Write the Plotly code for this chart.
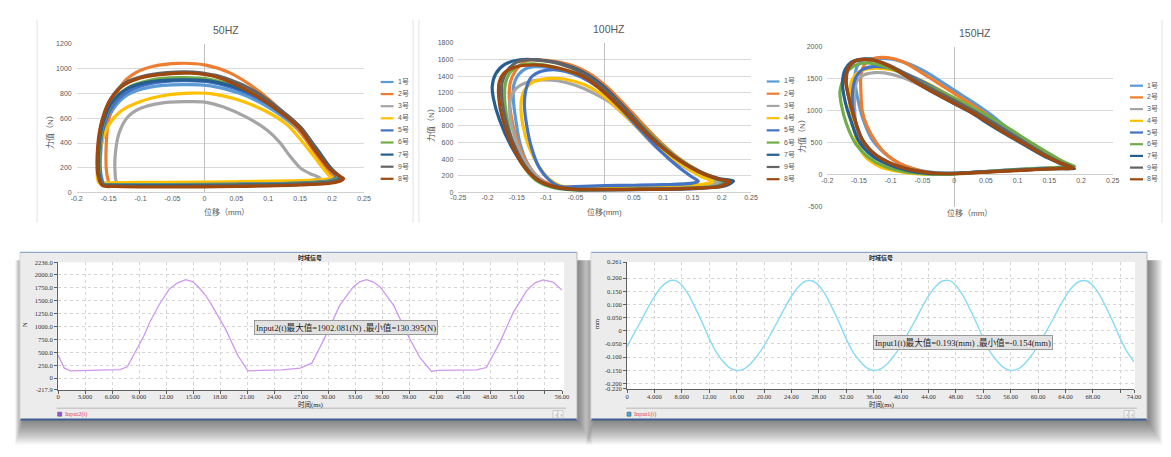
import plotly.graph_objects as go

W, H = 1171, 457
def fx(p): return p / W
def fy(p): return 1 - p / H

# ---------------- data ----------------
series_names = ["1号", "2号", "3号", "4号", "5号", "6号", "7号", "9号", "8号"]
series_colors = ["#5B9BD5", "#ED7D31", "#A5A5A5", "#FFC000", "#4472C4",
                 "#70AD47", "#255E91", "#636363", "#9E480E"]

# 50HZ loops: (displacement mm, force N)
hz50_1 = [(-0.157,72),(-0.162,150),(-0.162,350),(-0.156,520),(-0.142,680),(-0.120,790),(-0.085,850),(-0.035,870),(0.010,860),(0.055,800),(0.100,690),(0.140,540),(0.168,380),(0.190,220),(0.205,128),(0.192,100),(0.140,85),(0.050,78),(-0.050,72),(-0.140,70),(-0.157,72)]
hz50_2 = [(-0.148,70),(-0.153,160),(-0.154,350),(-0.151,550),(-0.142,740),(-0.128,880),(-0.108,965),(-0.080,1018),(-0.040,1042),(0.000,1030),(0.040,965),(0.082,830),(0.124,640),(0.155,455),(0.181,265),(0.199,145),(0.210,118),(0.195,80),(0.140,65),(0.040,58),(-0.060,60),(-0.130,65),(-0.148,70)]
hz50_3 = [(-0.137,85),(-0.140,180),(-0.139,340),(-0.133,490),(-0.120,610),(-0.100,680),(-0.070,720),(-0.030,733),(0.000,730),(0.030,690),(0.065,610),(0.098,505),(0.118,405),(0.134,295),(0.150,200),(0.165,155),(0.181,120),(0.165,98),(0.100,85),(0.000,80),(-0.100,82),(-0.137,85)]
hz50_4 = [(-0.165,78),(-0.168,150),(-0.165,300),(-0.158,450),(-0.148,560),(-0.130,660),(-0.100,735),(-0.060,785),(-0.020,802),(0.010,798),(0.050,752),(0.095,660),(0.130,545),(0.155,400),(0.178,250),(0.195,140),(0.200,118),(0.185,105),(0.130,95),(0.040,88),(-0.060,84),(-0.150,80),(-0.165,78)]
hz50_5 = [(-0.158,70),(-0.163,150),(-0.163,360),(-0.157,540),(-0.142,710),(-0.118,820),(-0.085,878),(-0.035,902),(0.010,890),(0.060,815),(0.108,690),(0.145,540),(0.170,375),(0.192,215),(0.207,125),(0.195,95),(0.140,78),(0.050,70),(-0.050,66),(-0.140,66),(-0.158,70)]
hz50_6 = [(-0.160,68),(-0.164,150),(-0.164,370),(-0.158,560),(-0.144,730),(-0.120,845),(-0.085,905),(-0.040,926),(0.010,912),(0.062,830),(0.112,690),(0.148,535),(0.173,370),(0.196,205),(0.210,122),(0.198,92),(0.140,74),(0.050,66),(-0.050,62),(-0.140,63),(-0.160,68)]
hz50_7 = [(-0.160,66),(-0.165,150),(-0.165,370),(-0.159,560),(-0.145,725),(-0.122,835),(-0.088,890),(-0.040,908),(0.010,898),(0.065,818),(0.115,680),(0.150,528),(0.175,360),(0.198,198),(0.212,120),(0.200,88),(0.140,70),(0.050,62),(-0.050,58),(-0.140,60),(-0.160,66)]
hz50_9 = [(-0.160,64),(-0.166,150),(-0.166,380),(-0.160,580),(-0.146,760),(-0.125,880),(-0.090,945),(-0.045,972),(-0.005,966),(0.035,920),(0.078,820),(0.120,665),(0.152,520),(0.174,355),(0.197,195),(0.213,120),(0.202,88),(0.140,66),(0.050,56),(-0.050,52),(-0.140,56),(-0.160,64)]
hz50_8 = [(-0.160,58),(-0.167,150),(-0.167,380),(-0.161,570),(-0.148,745),(-0.128,860),(-0.100,925),(-0.060,955),(-0.020,962),(0.020,930),(0.068,820),(0.118,650),(0.148,525),(0.172,350),(0.198,185),(0.215,125),(0.218,112),(0.205,82),(0.150,62),(0.050,50),(-0.060,46),(-0.140,50),(-0.160,58)]

# 100HZ loops
hz100_1 = [(0.200,140),(0.185,95),(0.120,70),(0.050,60),(0.000,55),(-0.050,50),(-0.085,80),(-0.112,170),(-0.132,350),(-0.145,600),(-0.152,880),(-0.156,1120),(-0.155,1300),(-0.147,1420),(-0.135,1490),(-0.118,1515),(-0.095,1505),(-0.065,1460),(-0.030,1380),(0.005,1215),(0.045,950),(0.085,660),(0.125,410),(0.165,235),(0.190,165),(0.200,140)]
hz100_2 = [(0.213,130),(0.198,75),(0.140,48),(0.060,40),(0.000,38),(-0.050,40),(-0.085,75),(-0.112,170),(-0.133,360),(-0.150,640),(-0.160,930),(-0.163,1150),(-0.161,1330),(-0.152,1470),(-0.140,1560),(-0.125,1598),(-0.100,1592),(-0.065,1550),(-0.030,1450),(0.005,1265),(0.045,975),(0.085,675),(0.125,420),(0.165,245),(0.198,155),(0.213,130)]
hz100_3 = [(0.198,130),(0.180,98),(0.120,85),(0.050,75),(0.000,68),(-0.050,55),(-0.080,45),(-0.100,100),(-0.120,220),(-0.140,420),(-0.155,700),(-0.162,950),(-0.160,1150),(-0.150,1260),(-0.130,1330),(-0.105,1355),(-0.080,1345),(-0.050,1290),(-0.020,1200),(0.010,1080),(0.050,820),(0.090,530),(0.130,330),(0.165,200),(0.190,140),(0.198,130)]
hz100_4 = [(0.185,130),(0.170,100),(0.110,85),(0.050,75),(0.000,70),(-0.050,62),(-0.075,75),(-0.095,160),(-0.113,320),(-0.130,560),(-0.140,820),(-0.143,1050),(-0.138,1220),(-0.125,1320),(-0.105,1365),(-0.087,1375),(-0.065,1360),(-0.035,1300),(-0.005,1180),(0.030,960),(0.065,720),(0.100,500),(0.135,320),(0.165,190),(0.185,130)]
hz100_5 = [(0.160,135),(0.150,110),(0.100,92),(0.050,85),(0.000,80),(-0.050,70),(-0.075,68),(-0.095,150),(-0.112,300),(-0.125,540),(-0.133,800),(-0.137,1050),(-0.134,1250),(-0.125,1390),(-0.108,1460),(-0.088,1480),(-0.068,1460),(-0.040,1390),(-0.010,1260),(0.025,1030),(0.060,760),(0.095,500),(0.125,310),(0.148,190),(0.160,135)]
hz100_6 = [(0.205,125),(0.190,72),(0.130,48),(0.050,40),(-0.010,30),(-0.055,28),(-0.090,60),(-0.118,150),(-0.140,330),(-0.157,600),(-0.167,900),(-0.171,1150),(-0.169,1330),(-0.160,1460),(-0.145,1530),(-0.125,1548),(-0.100,1530),(-0.065,1470),(-0.030,1380),(0.005,1210),(0.045,935),(0.085,650),(0.125,410),(0.165,240),(0.195,150),(0.205,125)]
hz100_7 = [(0.220,135),(0.205,75),(0.150,45),(0.080,35),(0.010,30),(-0.045,30),(-0.080,55),(-0.110,130),(-0.135,290),(-0.160,560),(-0.180,880),(-0.190,1130),(-0.192,1280),(-0.186,1430),(-0.170,1545),(-0.145,1598),(-0.115,1598),(-0.080,1560),(-0.040,1460),(0.000,1265),(0.040,975),(0.080,660),(0.120,425),(0.160,255),(0.195,165),(0.220,135)]
hz100_9 = [(0.210,128),(0.195,72),(0.140,48),(0.060,38),(0.000,35),(-0.050,38),(-0.085,70),(-0.115,160),(-0.138,340),(-0.157,610),(-0.170,900),(-0.176,1150),(-0.175,1330),(-0.165,1480),(-0.150,1570),(-0.133,1597),(-0.110,1590),(-0.075,1545),(-0.040,1445),(0.000,1245),(0.040,970),(0.080,670),(0.120,425),(0.160,250),(0.195,155),(0.210,128)]
hz100_8 = [(0.215,130),(0.200,72),(0.140,45),(0.060,35),(0.000,32),(-0.050,35),(-0.085,65),(-0.115,150),(-0.140,330),(-0.160,600),(-0.175,900),(-0.181,1150),(-0.180,1330),(-0.170,1450),(-0.150,1515),(-0.125,1535),(-0.100,1525),(-0.070,1480),(-0.035,1390),(0.000,1200),(0.040,930),(0.080,650),(0.120,420),(0.160,250),(0.195,160),(0.215,130)]

# 150HZ loops
hz150_1 = [(0.185,120),(0.170,190),(0.145,330),(0.115,520),(0.085,720),(0.056,950),(0.030,1130),(0.000,1320),(-0.049,1630),(-0.090,1790),(-0.115,1818),(-0.135,1810),(-0.150,1740),(-0.156,1580),(-0.155,1350),(-0.150,1100),(-0.143,850),(-0.130,560),(-0.110,340),(-0.085,170),(-0.055,70),(-0.025,30),(0.000,25),(0.040,45),(0.080,70),(0.120,95),(0.160,112),(0.185,120)]
hz150_2 = [(0.185,130),(0.170,195),(0.145,330),(0.115,510),(0.085,700),(0.056,910),(0.030,1080),(0.000,1270),(-0.049,1580),(-0.080,1760),(-0.105,1830),(-0.125,1820),(-0.140,1740),(-0.147,1560),(-0.147,1300),(-0.145,1000),(-0.137,750),(-0.122,490),(-0.105,300),(-0.086,177),(-0.060,80),(-0.035,25),(0.000,15),(0.040,35),(0.080,60),(0.120,85),(0.160,110),(0.185,130)]
hz150_3 = [(0.180,120),(0.165,180),(0.140,310),(0.110,480),(0.080,660),(0.055,820),(0.030,980),(0.000,1140),(-0.049,1380),(-0.085,1530),(-0.110,1590),(-0.125,1595),(-0.142,1560),(-0.153,1470),(-0.157,1300),(-0.157,1050),(-0.155,800),(-0.145,500),(-0.128,300),(-0.100,140),(-0.070,60),(-0.040,20),(-0.010,10),(0.030,35),(0.070,60),(0.110,80),(0.150,100),(0.180,120)]
hz150_4 = [(0.185,115),(0.170,180),(0.145,320),(0.115,500),(0.085,690),(0.056,880),(0.030,1040),(0.000,1200),(-0.049,1460),(-0.090,1620),(-0.115,1660),(-0.130,1662),(-0.148,1620),(-0.160,1500),(-0.165,1300),(-0.164,1050),(-0.160,800),(-0.152,500),(-0.140,280),(-0.120,140),(-0.100,73),(-0.070,25),(-0.040,5),(0.000,15),(0.040,40),(0.080,62),(0.120,85),(0.160,105),(0.185,115)]
hz150_5 = [(0.188,105),(0.170,180),(0.145,315),(0.115,495),(0.085,685),(0.056,870),(0.030,1030),(0.000,1190),(-0.049,1450),(-0.090,1640),(-0.112,1685),(-0.128,1688),(-0.145,1640),(-0.155,1520),(-0.160,1320),(-0.160,1080),(-0.155,820),(-0.143,520),(-0.125,300),(-0.100,150),(-0.070,55),(-0.040,15),(-0.010,10),(0.030,35),(0.070,60),(0.110,80),(0.150,95),(0.188,105)]
hz150_6 = [(0.190,130),(0.175,190),(0.150,330),(0.120,510),(0.090,700),(0.060,880),(0.030,1040),(0.000,1200),(-0.050,1430),(-0.100,1660),(-0.125,1730),(-0.140,1745),(-0.158,1700),(-0.172,1560),(-0.180,1300),(-0.178,1100),(-0.170,800),(-0.155,480),(-0.135,270),(-0.110,130),(-0.080,50),(-0.050,15),(-0.020,5),(0.020,25),(0.060,55),(0.100,80),(0.140,100),(0.170,118),(0.190,130)]
hz150_7 = [(0.190,95),(0.170,170),(0.140,300),(0.110,470),(0.080,640),(0.055,790),(0.030,950),(0.000,1110),(-0.050,1380),(-0.100,1690),(-0.130,1800),(-0.145,1808),(-0.162,1760),(-0.172,1640),(-0.176,1420),(-0.172,1150),(-0.163,850),(-0.150,520),(-0.130,300),(-0.105,165),(-0.075,70),(-0.045,25),(-0.010,15),(0.020,30),(0.060,50),(0.100,70),(0.140,90),(0.170,98),(0.190,95)]
hz150_9 = [(0.188,110),(0.170,180),(0.140,330),(0.110,510),(0.080,690),(0.055,850),(0.030,1000),(0.000,1160),(-0.050,1420),(-0.100,1700),(-0.128,1790),(-0.142,1800),(-0.157,1765),(-0.167,1650),(-0.170,1440),(-0.166,1200),(-0.158,900),(-0.146,560),(-0.126,330),(-0.100,180),(-0.070,85),(-0.040,35),(-0.010,20),(0.020,30),(0.060,50),(0.100,70),(0.140,90),(0.170,102),(0.188,110)]
hz150_8 = [(0.188,100),(0.165,190),(0.140,310),(0.109,490),(0.080,650),(0.056,800),(0.030,960),(0.000,1115),(-0.049,1375),(-0.101,1690),(-0.128,1790),(-0.143,1802),(-0.158,1770),(-0.168,1660),(-0.171,1450),(-0.166,1200),(-0.158,900),(-0.145,550),(-0.125,320),(-0.100,175),(-0.070,80),(-0.040,30),(-0.010,15),(0.020,25),(0.060,45),(0.100,65),(0.140,85),(0.170,95),(0.188,100)]

loops50 = [hz50_1, hz50_2, hz50_3, hz50_4, hz50_5, hz50_6, hz50_7, hz50_9, hz50_8]
loops100 = [hz100_1, hz100_2, hz100_3, hz100_4, hz100_5, hz100_6, hz100_7, hz100_9, hz100_8]
loops150 = [hz150_1, hz150_2, hz150_3, hz150_4, hz150_5, hz150_6, hz150_7, hz150_9, hz150_8]

# time signal: force Input2(t)
force_t = [0, 0.7, 1.4, 3.0, 5.0, 6.9, 7.7, 8.7, 9.5, 10.2,
           11.3, 12.4, 13.3, 14.2, 15.0, 15.6, 16.4, 17.1, 18.6, 20.0,
           20.7, 21.1, 22.5, 24.9, 26.9, 28.2, 29.0, 29.9, 31.3, 32.8,
           33.5, 34.3, 35.0, 35.8, 37.3, 38.7, 40.2, 41.0, 41.5, 42.1,
           44.0, 46.5, 47.6, 49.1, 50.6, 52.1, 53.0, 53.9, 55.0, 56.0]
force_n = [447, 194, 142, 150, 152, 165, 220, 530, 800, 1080,
           1437, 1728, 1840, 1902, 1860, 1760, 1600, 1404, 951, 433,
           250, 142, 150, 160, 195, 291, 560, 874, 1404, 1760,
           1860, 1900, 1860, 1760, 1404, 886, 400, 220, 130, 150,
           155, 161, 206, 691, 1274, 1695, 1840, 1895, 1856, 1700]

# time signal: displacement Input1(t), 1 ms samples 0..74
disp_t = list(range(0, 75))
disp_mm = [-0.061, -0.012, 0.035, 0.085, 0.130, 0.166, 0.187, 0.191, 0.173, 0.136,
           0.085, 0.030, -0.030, -0.080, -0.116, -0.141, -0.151, -0.146, -0.126, -0.095,
           -0.057, -0.011, 0.036, 0.086, 0.131, 0.166, 0.188, 0.190, 0.172, 0.135,
           0.084, 0.029, -0.031, -0.081, -0.116, -0.141, -0.151, -0.145, -0.125, -0.094,
           -0.056, -0.010, 0.036, 0.086, 0.131, 0.167, 0.188, 0.191, 0.172, 0.135,
           0.085, 0.030, -0.030, -0.080, -0.115, -0.140, -0.151, -0.146, -0.126, -0.095,
           -0.056, -0.011, 0.035, 0.085, 0.130, 0.166, 0.187, 0.190, 0.172, 0.135,
           0.085, 0.030, -0.030, -0.080, -0.118]

# tick labels
x50_ticks = [-0.2, -0.15, -0.1, -0.05, 0, 0.05, 0.1, 0.15, 0.2, 0.25]
x50_text = ["-0.2", "-0.15", "-0.1", "-0.05", "0", "0.05", "0.1", "0.15", "0.2", "0.25"]
x100_ticks = [-0.25, -0.2, -0.15, -0.1, -0.05, 0, 0.05, 0.1, 0.15, 0.2, 0.25]
x100_text = ["-0.25", "-0.2", "-0.15", "-0.1", "-0.05", "0", "0.05", "0.1", "0.15", "0.2", "0.25"]
y150_ticks = [-500, 0, 500, 1000, 1500, 2000]
y150_text = ["-500", "0", "500", "1000", "1500", "2000"]

force_xticks = [0, 3, 6, 9, 12, 15, 18, 21, 24, 27, 30, 33, 36, 39, 42, 45, 48, 51, 54, 56]
force_xtext = ["0", "3.000", "6.000", "9.000", "12.00", "15.00", "18.00", "21.00", "24.00", "27.00",
               "30.00", "33.00", "36.00", "39.00", "42.00", "45.00", "48.00", "51.00", "", "56.00"]
force_yticks = [-217.9, 0, 250, 500, 750, 1000, 1250, 1500, 1750, 2000, 2236.0]
force_ytext = ["-217.9", "0", "250.0", "500.0", "750.0", "1000.0", "1250.0", "1500.0", "1750.0", "2000.0", "2236.0"]
disp_xticks = [0, 4, 8, 12, 16, 20, 24, 28, 32, 36, 40, 44, 48, 52, 56, 60, 64, 68, 72, 74]
disp_xtext = ["0", "4.000", "8.000", "12.00", "16.00", "20.00", "24.00", "28.00", "32.00", "36.00",
              "40.00", "44.00", "48.00", "52.00", "56.00", "60.00", "64.00", "68.00", "", "74.00"]
disp_yticks = [-0.220, -0.200, -0.150, -0.100, -0.050, 0, 0.050, 0.100, 0.150, 0.200, 0.261]
disp_ytext = ["-0.220", "-0.200", "-0.150", "-0.100", "-0.050", "0", "0.050", "0.100", "0.150", "0.200", "0.261"]

# ---------------- figure ----------------
fig = go.Figure()

for loops, ax in [(loops50, ("x", "y")), (loops100, ("x2", "y2")), (loops150, ("x3", "y3"))]:
    for pts, name, color in zip(loops, series_names, series_colors):
        fig.add_trace(go.Scatter(
            x=[p[0] for p in pts], y=[p[1] for p in pts], name=name,
            mode="lines", line=dict(color=color, width=3.2, shape="spline", smoothing=0.8),
            xaxis=ax[0], yaxis=ax[1], showlegend=False, hoverinfo="skip"))

fig.add_trace(go.Scatter(x=force_t, y=force_n, mode="lines", name="Input2(t)",
                         line=dict(color="#CE98EE", width=1.3), xaxis="x4", yaxis="y4",
                         showlegend=False, hoverinfo="skip"))
fig.add_trace(go.Scatter(x=disp_t, y=disp_mm, mode="lines", name="Input1(t)",
                         line=dict(color="#8ADAF4", width=1.4, shape="spline", smoothing=0.6),
                         xaxis="x5", yaxis="y5", showlegend=False, hoverinfo="skip"))

XL = dict(family="Liberation Sans, Noto Sans CJK SC", size=7, color="#595959")
SER = dict(family="Liberation Serif, Noto Sans CJK SC", size=6.5, color="#333333")

def excel_x(domain, rng, tv, tt, **kw):
    d = dict(domain=domain, range=rng, tickvals=tv, ticktext=tt, showgrid=False,
             zeroline=True, zerolinecolor="#BFBFBF", zerolinewidth=1, showline=False,
             ticks="", tickfont=XL, fixedrange=True, automargin=False)
    d.update(kw)
    return d

def excel_y(domain, rng, tv, tt, **kw):
    d = dict(domain=domain, range=rng, tickvals=tv, ticktext=tt, showgrid=True,
             gridcolor="#D9D9D9", gridwidth=1, zeroline=True, zerolinecolor="#D0D0D0",
             zerolinewidth=1, showline=False, ticks="", tickfont=XL, fixedrange=True,
             ticklabelstandoff=4, automargin=False)
    d.update(kw)
    return d

def soft_x(domain, rng, tv, tt):
    return dict(domain=domain, range=rng, tickvals=tv, ticktext=tt, showgrid=True,
                gridcolor="#D6D6D6", griddash="dot", gridwidth=1, zeroline=False,
                showline=True, linecolor="#606060", linewidth=1, ticks="outside",
                ticklen=3, tickcolor="#606060", tickfont=SER, fixedrange=True,
                automargin=False, ticklabelstandoff=-2)

def soft_y(domain, rng, tv, tt):
    return dict(domain=domain, range=rng, tickvals=tv, ticktext=tt, showgrid=True,
                gridcolor="#D6D6D6", griddash="dot", gridwidth=1, zeroline=False,
                showline=True, linecolor="#606060", linewidth=1, ticks="outside",
                ticklen=3, tickcolor="#606060", tickfont=SER, fixedrange=True,
                automargin=False)

y50 = list(range(0, 1201, 200))
y100 = list(range(0, 1801, 200))

fig.update_layout(
    width=W, height=H, autosize=False, margin=dict(l=0, r=0, t=0, b=0, pad=0),
    paper_bgcolor="white", plot_bgcolor="white", hovermode=False,
    xaxis=excel_x([fx(76.7), fx(364)], [-0.2, 0.25], x50_ticks, x50_text, anchor="y"),
    yaxis=excel_y([fy(192.7), fy(43.7)], [0, 1200], y50, [str(v) for v in y50], anchor="x"),
    xaxis2=excel_x([fx(458.3), fx(751)], [-0.25, 0.25], x100_ticks, x100_text, anchor="y2"),
    yaxis2=excel_y([fy(192.3), fy(43)], [0, 1800], y100, [str(v) for v in y100], anchor="x2"),
    xaxis3=excel_x([fx(827.3), fx(1112.7)], [-0.2, 0.25], x50_ticks, x50_text,
                   anchor="free", position=fy(174.7)),
    yaxis3=excel_y([fy(206.7), fy(46.7)], [-500, 2000], y150_ticks, y150_text, anchor="x3"),
    xaxis4=dict(soft_x([fx(58), fx(562)], [0, 56], force_xticks, force_xtext), anchor="y4"),
    yaxis4=dict(soft_y([fy(389.5), fy(262.3)], [-217.9, 2236.0], force_yticks, force_ytext), anchor="x4"),
    xaxis5=dict(soft_x([fx(627), fx(1134)], [0, 74], disp_xticks, disp_xtext), anchor="y5"),
    yaxis5=dict(soft_y([fy(388.7), fy(262)], [-0.220, 0.261], disp_yticks, disp_ytext), anchor="x5"),
)

shapes = []
annotations = []

def rect(x0, y0, x1, y1, fill, line=None, lw=0, layer="below"):
    shapes.append(dict(type="rect", xref="paper", yref="paper", x0=fx(x0), x1=fx(x1),
                       y0=fy(y1), y1=fy(y0), fillcolor=fill, layer=layer,
                       line=dict(color=line or "rgba(0,0,0,0)", width=lw)))

def hline(x0, x1, y, color, w=1, layer="below"):
    shapes.append(dict(type="line", xref="paper", yref="paper", x0=fx(x0), x1=fx(x1),
                       y0=fy(y), y1=fy(y), layer=layer, line=dict(color=color, width=w)))

def vline(x, y0, y1, color, w=1, layer="below"):
    shapes.append(dict(type="line", xref="paper", yref="paper", x0=fx(x), x1=fx(x),
                       y0=fy(y0), y1=fy(y1), layer=layer, line=dict(color=color, width=w)))

def text(t, x, y, font, xanchor="center", angle=0, **kw):
    a = dict(text=t, xref="paper", yref="paper", x=fx(x), y=fy(y), showarrow=False,
             xanchor=xanchor, yanchor="middle", font=font, textangle=angle)
    a.update(kw)
    annotations.append(a)

# Excel chart area borders
for xb in [37, 413, 419, 1162]:
    vline(xb, 20, 223, "#E3E3E3")

# titles and axis titles of the Excel charts
TT = dict(family="Liberation Sans, Noto Sans CJK SC", size=10.5, color="#595959")
AX = dict(family="Liberation Sans, Noto Sans CJK SC", size=8, color="#595959")
text("50HZ", 226, 29.5, TT)
text("100HZ", 609, 29, TT)
text("150HZ", 975, 33, TT)
text("位移（mm）", 226, 211.5, AX)
text("位移(mm)", 604, 211.5, AX)
text("位移（mm）", 969, 212.5, AX)
text("力值（N）", 50, 130, AX, angle=-90)
text("力值（N）", 431, 123, AX, angle=-90)
text("力值（N）", 802, 134, AX, angle=-90)

# manual legends (Excel style)
LG = dict(family="Liberation Sans, Noto Sans CJK SC", size=7, color="#595959")
for lx0, lx1, tx, ly0, ly1 in [(380.7, 393.5, 395.5, 82, 178.8),
                                (766.7, 779.5, 781.5, 81.5, 179.2),
                                (1130, 1143, 1145, 85.7, 179.3)]:
    step = (ly1 - ly0) / 8
    for i, (nm, col) in enumerate(zip(series_names, series_colors)):
        yy = ly0 + i * step
        hline(lx0, lx1, yy, col, 2.2, layer="above")
        text(nm, tx, yy, LG, xanchor="left")

# bottom software panels
def panel(x0, y0, x1, y1, px0, py0, px1, py1, check_col, label, title_x):
    for i in range(14):
        rect(x0 + 3 - i * 0.6, y0 + 8, x1 + 1 + i * 1.1, y1 + 1 + i * 1.8,
             "rgba(0,0,0,0.045)")
    rect(x0, y0, x1, y1, "#ECECEC")
    rect(px0, py0, px1, py1, "#FFFFFF")
    hline(x0, x1, y0, "#8FA8C8", 1.2)
    hline(x0, x1, y1 - 0.5, "#3F5E94", 2)
    vline(x1, y0, y1, "#B8B8B8", 1)
    vline(x0, y0, y1, "#D8D8D8", 1)
    hline(px0, px1 + 2, 408.3, "#C9C9C9", 1.5)
    rect(px0 + 1, 412.2, px0 + 5, 416.2, check_col, "#5A5A5A", 0.6)
    text(label, px0 + 6, 414.3, dict(family="Liberation Serif", size=6.3, color="#E8405A"),
         xanchor="left")
    rect(px1 - 11, 410.5, px1 - 6, 418, "#F2F2F2", "#B5B5B5", 0.6)
    rect(px1 - 6, 410.5, px1 - 1, 418, "#F2F2F2", "#B5B5B5", 0.6)
    text("‹", px1 - 8.5, 414, dict(family="DejaVu Sans", size=6, color="#777"))
    text("›", px1 - 3.5, 414, dict(family="DejaVu Sans", size=6, color="#777"))
    text("<b>时域信号</b>", title_x, 257.5, dict(family="Noto Sans CJK SC", size=6, color="#222"))
    text("时间(ms)", title_x, 404.5, dict(family="Liberation Serif, Noto Sans CJK SC", size=6.5, color="#222"))

panel(20, 252.3, 577, 420, 56.7, 262.3, 564, 390, "#9C55D6", "Input2(t)", 310)
panel(591, 252.3, 1147, 420, 626, 262, 1135, 389, "#3FA9E0", "Input1(t)", 881)

text("N", 24, 325, dict(family="Liberation Serif", size=6.5, color="#222"), angle=-90)
text("mm", 596, 324, dict(family="Liberation Serif", size=6.5, color="#222"), angle=-90)

BOX = dict(family="Liberation Serif, Noto Sans CJK SC", size=8.6, color="#222222")
text("Input2(t)最大值=1902.081(N) ,最小值=130.395(N)", 345.5, 327, BOX,
     bgcolor="#E2E2E2", bordercolor="#9A9A9A", borderwidth=1, borderpad=1)
text("Input1(t)最大值=0.193(mm) ,最小值=-0.154(mm)", 962.5, 342.5, BOX,
     bgcolor="#E2E2E2", bordercolor="#9A9A9A", borderwidth=1, borderpad=1)

fig.update_layout(shapes=shapes, annotations=annotations)
fig.write_html("out.html", config={"displayModeBar": False, "staticPlot": True},
               post_script="document.body.style.margin='0px';document.body.style.overflow='hidden';")
